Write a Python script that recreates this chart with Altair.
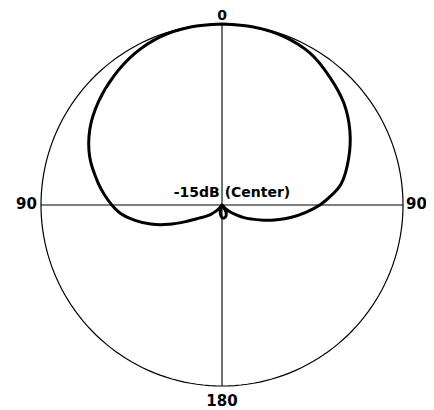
import altair as alt
import pandas as pd

# Polar pattern: angle (degrees, clockwise from front) and level in dB (0 dB at rim, -15 dB at centre)
pattern_angles = [0, 10, 20, 30, 40, 50, 60, 70, 80, 85, 90, 95, 100, 105, 110, 115, 120, 125,
                  130, 135, 140, 150, 160, 170, 180, 190, 200, 210, 215, 220, 225, 230, 235,
                  240, 245, 250, 255, 260, 265, 270, 275, 280, 290, 300, 310, 320, 330, 340,
                  350, 360]
pattern_db = [0, -0.02, -0.12, -0.44, -1.13, -1.83, -2.76, -3.84, -4.98, -5.9, -6.89, -8.03,
              -9.15, -10.29, -11.31, -12.23, -12.9, -13.61, -14.1, -14.55, -15, -14.33, -14.03,
              -13.91, -13.95, -14.25, -14.63, -15, -15, -14.7, -14.25, -13.8, -13.35, -12.83,
              -11.82, -10.31, -8.88, -7.68, -6.6, -5.87, -5.22, -4.58, -3.33, -2.36, -1.65,
              -1.05, -0.51, -0.15, -0.02, 0]

db_min = -15
center_label = "-15dB (Center)"
spoke_angles = [0, 90]
label_angles = [0, 90, 180, 270]
label_texts = ["0", "90", "180", "90"]

xs = alt.Scale(domain=[-1.1823, 1.127], nice=False, zero=False)
ys = alt.Scale(domain=[-1.1326, 1.0884], nice=False, zero=False)
X = lambda f: alt.X(f, type="quantitative", scale=xs, axis=None)
Y = lambda f: alt.Y(f, type="quantitative", scale=ys, axis=None)

FONT = "DejaVu Sans"

circle = alt.Chart(alt.sequence(0, 361, 2, as_="angle")).transform_calculate(
    x="sin(datum.angle*PI/180)", y="cos(datum.angle*PI/180)"
).mark_line(color="black", strokeWidth=1.2).encode(x=X("x"), y=Y("y"), order="angle:Q")

spokes = alt.Chart(pd.DataFrame({"angle": spoke_angles})).transform_calculate(
    x="sin(datum.angle*PI/180)", y="cos(datum.angle*PI/180)",
    x2="-sin(datum.angle*PI/180)", y2="-cos(datum.angle*PI/180)"
).mark_rule(color="black", strokeWidth=1.1).encode(
    x=X("x"), y=Y("y"), x2="x2:Q", y2="y2:Q"
)

pattern = alt.Chart(pd.DataFrame({"angle": pattern_angles, "db": pattern_db})).transform_calculate(
    r=f"(datum.db - ({db_min})) / {-db_min}"
).transform_calculate(
    x="datum.r*sin(datum.angle*PI/180)", y="datum.r*cos(datum.angle*PI/180)"
).mark_line(color="black", strokeWidth=3, interpolate="catmull-rom").encode(
    x=X("x"), y=Y("y"), order="angle:Q"
)

lab_df = pd.DataFrame({"angle": label_angles, "label": label_texts})


def label_layer(angle, size=15, **kw):
    return alt.Chart(lab_df).transform_filter(f"datum.angle == {angle}").transform_calculate(
        x="sin(datum.angle*PI/180)", y="cos(datum.angle*PI/180)"
    ).mark_text(font=FONT, fontWeight="bold", fontSize=size, color="black", **kw).encode(
        x=X("x"), y=Y("y"), text="label:N"
    )


lab_top = label_layer(0, size=14, align="center", baseline="alphabetic", dy=-4)
lab_right = label_layer(90, align="left", baseline="alphabetic", dx=3, dy=4)
lab_bottom = label_layer(180, align="center", baseline="alphabetic", dy=20)
lab_left = label_layer(270, align="right", baseline="alphabetic", dx=-4, dy=4)

center = alt.Chart(pd.DataFrame({"label": [center_label], "db": [db_min]})).transform_calculate(
    x="0", y=f"(datum.db - ({db_min}))"
).mark_text(font=FONT, fontWeight="bold", fontSize=14, color="black",
            align="center", baseline="alphabetic", dx=10, dy=-8).encode(
    x=X("x"), y=Y("y"), text="label:N"
)

chart = alt.layer(circle, spokes, pattern, lab_top, lab_right, lab_bottom, lab_left, center).properties(
    width=418, height=402, padding=0,
    autosize=alt.AutoSizeParams(type="none"),
    background="white",
).configure_view(stroke=None)

chart.save("out.html", embed_options={"renderer": "svg", "actions": False})
